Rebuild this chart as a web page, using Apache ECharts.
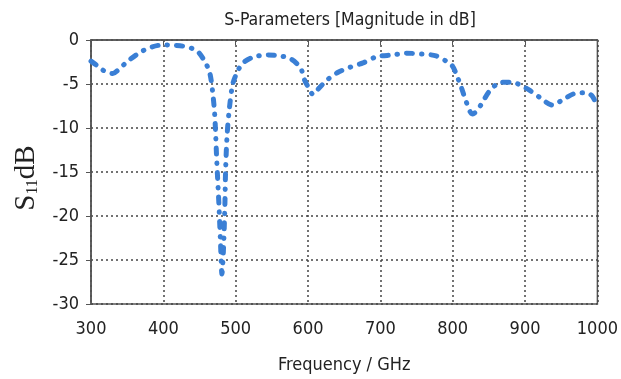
<!DOCTYPE html>
<html><head><meta charset="utf-8">
<script src="https://cdn.jsdelivr.net/npm/echarts@6/dist/echarts.min.js"></script>
<style>html,body{margin:0;padding:0;background:#fff}#c{width:621px;height:379px}</style>
</head><body><div id="c"></div>
<script>
const freq = [300,310,320,330,340,351,368,384,400,415,427,446,457,464,468,471,474,477,479,481,483,485,486,488,491,496,503,510,526,545,561,575,586,591,595,602,607,616,627,641,658,676,695,717,736,758,777,791,800,805,812,819,827,833,841,851,867,883,895,906,920,938,952,968,985,993,1000];
const s11 = [-2.4,-3.0,-3.6,-3.8,-3.2,-2.4,-1.4,-0.8,-0.55,-0.6,-0.7,-1.2,-2.4,-3.7,-5.8,-8.5,-14,-19,-23,-26.6,-24,-19,-15,-11,-8,-5,-3.5,-2.6,-1.9,-1.7,-1.8,-2.1,-2.8,-3.4,-4.5,-5.6,-6.2,-5.4,-4.5,-3.7,-3.1,-2.6,-1.9,-1.7,-1.5,-1.6,-1.8,-2.4,-3.0,-3.9,-5.4,-7.1,-8.4,-8.1,-7.1,-5.8,-4.8,-4.8,-5.2,-5.7,-6.5,-7.4,-6.8,-6.1,-6.0,-6.4,-7.6];
const xTicks = [300,400,500,600,700,800,900,1000];
const yTicks = [0,-5,-10,-15,-20,-25,-30];

const FONT = "'DejaVu Sans Condensed', 'DejaVu Sans', sans-serif";
const chart = echarts.init(document.getElementById('c'));
chart.setOption({
  animation:false,
  title:{text:'S-Parameters [Magnitude in dB]', left:345, top:6, textAlign:'center',
    textStyle:{fontFamily:FONT, fontSize:17.5, fontWeight:'normal', color:'#222'}},
  grid:{left:91, right:23, top:40, bottom:72, show:true, borderColor:'#555', borderWidth:1.5},
  xAxis:{type:'value', min:300, max:1000, interval:100,
    name:'Frequency / GHz', nameLocation:'middle', nameGap:52,
    nameTextStyle:{fontFamily:FONT, fontSize:18, color:'#222'},
    axisLine:{lineStyle:{color:'#555', width:1.5}},
    axisTick:{length:5, lineStyle:{color:'#555'}},
    axisLabel:{fontFamily:FONT, fontSize:18, color:'#222', margin:16,
      formatter:v=>xTicks.includes(v)?String(v):''},
    splitLine:{lineStyle:{type:[2,3], color:'#444', width:1.5}}},
  yAxis:{type:'value', min:-30, max:0, interval:5,
    name:'{a|S}{b|11}{a|dB}', nameLocation:'middle', nameRotate:90, nameGap:50,
    nameTextStyle:{padding:[0,12,0,0], rich:{a:{fontFamily:'Liberation Serif', fontSize:29, color:'#222'},
      b:{fontFamily:'Liberation Serif', fontSize:16, color:'#222', verticalAlign:'bottom', padding:[12,0,0,0]}}},
    axisLine:{lineStyle:{color:'#555', width:1.5}},
    axisTick:{length:5, lineStyle:{color:'#555'}},
    axisLabel:{fontFamily:FONT, fontSize:18, color:'#222', margin:12,
      formatter:v=>yTicks.includes(v)?String(v):''},
    splitLine:{lineStyle:{type:[2,3], color:'#444', width:1.5}}},
  series:[{type:'line', data:freq.map((f,i)=>[f,s11[i]]), showSymbol:false, smooth:0.3,
    lineStyle:{color:'#3a7fd5', width:5, type:[6,9,0.5,9], cap:'round'}}]
});
</script></body></html>
